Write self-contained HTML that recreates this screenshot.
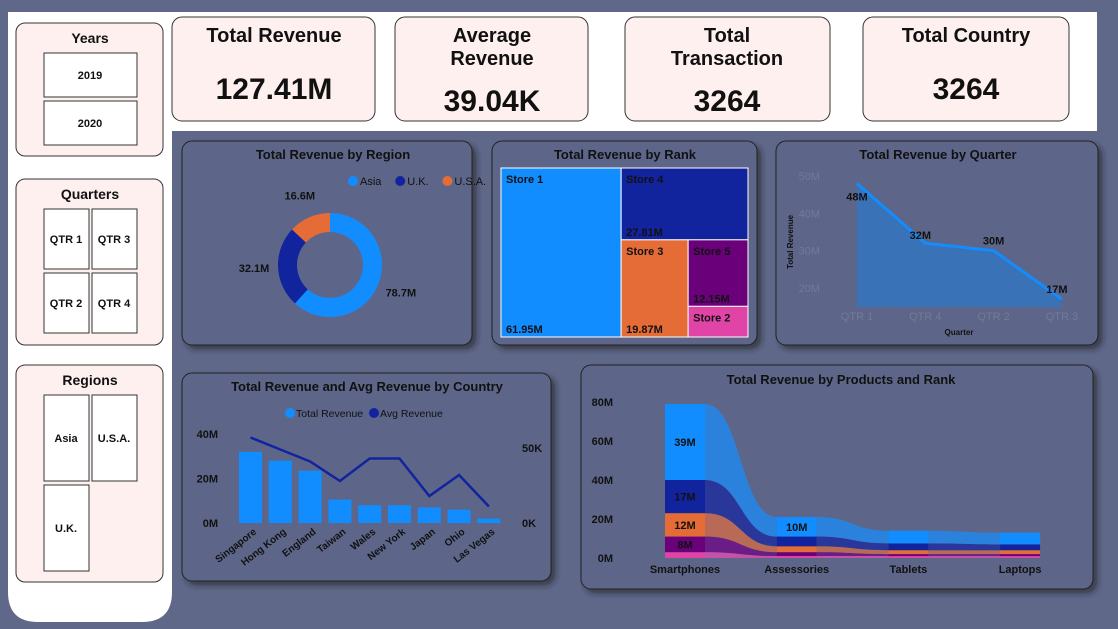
<!DOCTYPE html>
<html><head><meta charset="utf-8">
<style>
html,body{margin:0;padding:0;background:#5f6889;}
svg{display:block;font-family:"Liberation Sans",sans-serif;}
.t{font-weight:bold;fill:#111;}
</style></head>
<body>
<svg id="s" width="1118" height="629" viewBox="0 0 1118 629">
<defs>
<filter id="sh" x="-10%" y="-10%" width="130%" height="130%"><feDropShadow dx="4" dy="4" stdDeviation="3" flood-color="#222" flood-opacity="0.6"/></filter>
</defs>
<rect width="1118" height="629" fill="#5f6889"/>
<path d="M8 12 H172 V592 Q172 622 142 622 H38 Q8 622 8 592 Z" fill="#fff"/>
<rect x="172" y="12" width="925" height="119" fill="#fff"/>

<g>
<rect x="16" y="23" width="147" height="133" rx="9" fill="#fdf0ee" stroke="#333" stroke-width="1"/>
<text x="90" y="43" text-anchor="middle" class="t" font-size="14">Years</text>
<g><rect x="44" y="53" width="93" height="44" fill="#fff" stroke="#333"/><text x="90" y="79" text-anchor="middle" font-size="11" class="t">2019</text></g>
<g><rect x="44" y="101" width="93" height="44" fill="#fff" stroke="#333"/><text x="90" y="127" text-anchor="middle" font-size="11" class="t">2020</text></g>
</g>
<g>
<rect x="16" y="179" width="147" height="166" rx="9" fill="#fdf0ee" stroke="#333"/>
<text x="90" y="199" text-anchor="middle" class="t" font-size="14">Quarters</text>
<g><rect x="44" y="209" width="45" height="60" fill="#fff" stroke="#333"/><text x="66" y="243" text-anchor="middle" font-size="11" class="t">QTR 1</text></g>
<g><rect x="92" y="209" width="45" height="60" fill="#fff" stroke="#333"/><text x="114" y="243" text-anchor="middle" font-size="11" class="t">QTR 3</text></g>
<g><rect x="44" y="273" width="45" height="60" fill="#fff" stroke="#333"/><text x="66" y="307" text-anchor="middle" font-size="11" class="t">QTR 2</text></g>
<g><rect x="92" y="273" width="45" height="60" fill="#fff" stroke="#333"/><text x="114" y="307" text-anchor="middle" font-size="11" class="t">QTR 4</text></g>
</g>
<g>
<rect x="16" y="365" width="147" height="217" rx="9" fill="#fdf0ee" stroke="#333"/>
<text x="90" y="385" text-anchor="middle" class="t" font-size="14">Regions</text>
<g><rect x="44" y="395" width="45" height="86" fill="#fff" stroke="#333"/><text x="66" y="442" text-anchor="middle" font-size="11" class="t">Asia</text></g>
<g><rect x="92" y="395" width="45" height="86" fill="#fff" stroke="#333"/><text x="114" y="442" text-anchor="middle" font-size="11" class="t">U.S.A.</text></g>
<g><rect x="44" y="485" width="45" height="86" fill="#fff" stroke="#333"/><text x="66" y="532" text-anchor="middle" font-size="11" class="t">U.K.</text></g>
</g>

<g>
<rect x="172" y="17" width="203" height="104" rx="10" fill="#fdf0ee" stroke="#333"/>
<text x="274" y="42" text-anchor="middle" class="t" font-size="20" fill="#222">Total Revenue</text>
<text x="274" y="99" text-anchor="middle" class="t" font-size="30" fill="#222">127.41M</text></g>
<g>
<rect x="395" y="17" width="193" height="104" rx="10" fill="#fdf0ee" stroke="#333"/>
<text x="492" y="42" text-anchor="middle" class="t" font-size="20">Average</text>
<text x="492" y="65" text-anchor="middle" class="t" font-size="20">Revenue</text>
<text x="492" y="111" text-anchor="middle" class="t" font-size="30">39.04K</text></g>
<g>
<rect x="625" y="17" width="205" height="104" rx="10" fill="#fdf0ee" stroke="#333"/>
<text x="727" y="42" text-anchor="middle" class="t" font-size="20">Total</text>
<text x="727" y="65" text-anchor="middle" class="t" font-size="20">Transaction</text>
<text x="727" y="111" text-anchor="middle" class="t" font-size="30">3264</text></g>
<g>
<rect x="863" y="17" width="206" height="104" rx="10" fill="#fdf0ee" stroke="#333"/>
<text x="966" y="42" text-anchor="middle" class="t" font-size="20">Total Country</text>
<text x="966" y="99" text-anchor="middle" class="t" font-size="30">3264</text></g>

<g filter="url(#sh)">
<rect x="182" y="141" width="290" height="204" rx="10" fill="#5d6688" stroke="#222"/>
<rect x="492" y="141" width="265" height="204" rx="10" fill="#5d6688" stroke="#222"/>
<rect x="776" y="141" width="322" height="204" rx="10" fill="#5d6688" stroke="#222"/>
<rect x="182" y="373" width="369" height="208" rx="10" fill="#5d6688" stroke="#222"/>
<rect x="581" y="365" width="512" height="224" rx="10" fill="#5d6688" stroke="#222"/>
</g>
<text x="333" y="159" text-anchor="middle" class="t" font-size="13">Total Revenue by Region</text>
<text x="625" y="159" text-anchor="middle" class="t" font-size="13">Total Revenue by Rank</text>
<text x="938" y="159" text-anchor="middle" class="t" font-size="13">Total Revenue by Quarter</text>
<text x="367" y="391" text-anchor="middle" class="t" font-size="13">Total Revenue and Avg Revenue by Country</text>
<text x="841" y="384" text-anchor="middle" class="t" font-size="13">Total Revenue by Products and Rank</text>

<g id="region"></g>
<g id="rank"></g>
<g id="quarter"></g>
<g id="country"></g>
<g id="products"></g>
</svg>
<script>
const regionNames=["Asia","U.K.","U.S.A."];
const regionValues=[78.7,32.1,16.6];
const regionColors=["#118dff","#12239e","#e66c37"];

const rankNames=["Store 1","Store 4","Store 3","Store 5","Store 2"];
const rankValues=[61.95,27.81,19.87,12.15,5.6];
const rankLabels=["61.95M","27.81M","19.87M","12.15M",""];

const quarterNames=["QTR 1","QTR 4","QTR 2","QTR 3"];
const quarterValues=[48,32,30,17];
const quarterTicks=[20,30,40,50];

const countryNames=["Singapore","Hong Kong","England","Taiwan","Wales","New York","Japan","Ohio","Las Vegas"];
const countryTotal=[32,28,23.5,10.5,8,8,7,6,2];
const countryAvg=[57,49,41,28,43,43,18,32,11];
const countryLeftTicks=[0,20,40];
const countryRightTicks=[0,50];

const productNames=["Smartphones","Assessories","Tablets","Laptops"];
const rankPink=[3,1,1,1];
const rankPurple=[8,2,1,1];
const rankOrange=[12,3,2,2];
const rankDark=[17,5,3.5,3];
const rankLight=[39,10,6.5,6];
const productTicks=[0,20,40,60,80];

const NS="http://www.w3.org/2000/svg";
function mk(tag,attrs,parent,text){const e=document.createElementNS(NS,tag);for(const k in attrs)e.setAttribute(k,attrs[k]);if(text!==undefined)e.textContent=text;parent.appendChild(e);return e;}

(function(){
const g=document.getElementById('region');
const cx=330,cy=265,R=52,r=33;const tot=regionValues.reduce((a,b)=>a+b,0);
let a0=0;
regionValues.forEach((v,i)=>{
 const a1=a0+v/tot*2*Math.PI;
 const p=(a,rad)=>[cx+rad*Math.sin(a),cy-rad*Math.cos(a)];
 const [x1,y1]=p(a0,R),[x2,y2]=p(a1,R),[x3,y3]=p(a1,r),[x4,y4]=p(a0,r);
 const lg=(a1-a0)>Math.PI?1:0;
 const s=mk('path',{d:`M${x1} ${y1} A${R} ${R} 0 ${lg} 1 ${x2} ${y2} L${x3} ${y3} A${r} ${r} 0 ${lg} 0 ${x4} ${y4}Z`,fill:regionColors[i]},g);
 
 
 const am=(a0+a1)/2;const [lx,ly]=p(am,R+24);
 const t=mk('text',{x:lx,y:ly+4,'text-anchor':'middle','font-size':11,fill:'#111','font-weight':'bold'},g,v.toFixed(1)+'M');
 
 
 a0=a1;
});
let lx=348;
regionNames.forEach((n,i)=>{
 const c=mk('circle',{cx:lx+5,cy:181,r:5,fill:regionColors[i]},g);
 
 
 const t=mk('text',{x:lx+12,y:185,'font-size':11,fill:'#111'},g,n);
 
 
 lx+=12+n.length*6.8+8;
});
})();

(function(){
const g=document.getElementById('rank');
const X0=501,X1=748,Y0=168,Y1=337;
const cols=["#118dff","#12239e","#e66c37","#6b007b","#e044a7"];
const tot=rankValues.reduce((a,b)=>a+b,0);
const W=X1-X0,H=Y1-Y0;
const rects=[];
const w1=W*rankValues[0]/tot;rects.push([X0,Y0,w1,H]);
const rest=tot-rankValues[0];const xr=X0+w1,wr=X1-xr;
const h4=H*rankValues[1]/rest;rects.push([xr,Y0,wr,h4]);
const rest2=rest-rankValues[1];const yb=Y0+h4,hb=Y1-yb;
const w3=wr*rankValues[2]/rest2;rects.push([xr,yb,w3,hb]);
const rest3=rest2-rankValues[2];const x5=xr+w3,w5=X1-x5;
const h5=hb*rankValues[3]/rest3;rects.push([x5,yb,w5,h5]);
rects.push([x5,yb+h5,w5,Y1-yb-h5]);
rects.forEach((r,i)=>{
 const e=mk('rect',{x:r[0],y:r[1],width:r[2],height:r[3],fill:cols[i],stroke:'#fff','stroke-width':1},g);
 
 
 const t=mk('text',{x:r[0]+5,y:r[1]+15,'font-size':11,fill:'#111','font-weight':'bold'},g,rankNames[i]);
 
 
 if(rankLabels[i]){const v=mk('text',{x:r[0]+5,y:r[1]+r[3]-4,'font-size':11,fill:'#111','font-weight':'bold'},g,rankLabels[i]);
 
 }
});
})();

(function(){
const g=document.getElementById('quarter');
const y=v=>176+(50-v)*3.733;const x=i=>857+i*68.3;
quarterTicks.forEach(t=>{const e=mk('text',{x:820,y:y(t)+4,'text-anchor':'end','font-size':11,fill:'#727a9a'},g,t+'M');
 
 });
quarterNames.forEach((n,i)=>{const e=mk('text',{x:x(i),y:320,'text-anchor':'middle','font-size':11,fill:'#727a9a'},g,n);
 
 });
let pts=quarterValues.map((v,i)=>x(i)+','+y(v)).join(' ');
const a=mk('polygon',{points:`${x(0)},307 ${pts} ${x(3)},307`,fill:'#3a72b8'},g);


const l=mk('polyline',{points:pts,fill:'none',stroke:'#118dff','stroke-width':3},g);


const off=[[0,13],[-5,-8],[0,-10],[-5,-10]];
quarterValues.forEach((v,i)=>{const e=mk('text',{x:x(i)+off[i][0],y:y(v)+off[i][1]+4,'text-anchor':'middle','font-size':11,fill:'#111','font-weight':'bold'},g,v+'M');
 
 });
const yt=mk('text',{transform:'translate(793,242) rotate(-90)','text-anchor':'middle','font-size':8,'font-weight':'bold',fill:'#111'},g,'Total Revenue');


const xt=mk('text',{x:959,y:335,'text-anchor':'middle','font-size':8,'font-weight':'bold',fill:'#111'},g,'Quarter');


})();

(function(){
const g=document.getElementById('country');
const yL=v=>523-v*2.225,yR=v=>523-v*1.5,x=i=>239+i*29.8;
countryLeftTicks.forEach(t=>{const e=mk('text',{x:218,y:yL(t)+4,'text-anchor':'end','font-size':11,fill:'#111','font-weight':'bold'},g,t+'M');
 
 });
countryRightTicks.forEach(t=>{const e=mk('text',{x:522,y:yR(t)+4,'font-size':11,fill:'#111','font-weight':'bold'},g,t+'K');
 
 });
countryTotal.forEach((v,i)=>{const e=mk('rect',{x:x(i),y:yL(v),width:23,height:v*2.225,fill:'#118dff'},g);
 
 
 const t=mk('text',{transform:`translate(${x(i)+18},${533}) rotate(-38)`,'text-anchor':'end','font-size':10,'font-weight':'bold',fill:'#111'},g,countryNames[i]);
 
 });
const l=mk('polyline',{points:countryAvg.map((v,i)=>(x(i)+11.5)+','+yR(v)).join(' '),fill:'none',stroke:'#12239e','stroke-width':2.5},g);


[['Total Revenue','#118dff',290],['Avg Revenue','#12239e',374]].forEach(d=>{
 const c=mk('circle',{cx:d[2],cy:413,r:5,fill:d[1]},g);
 
 
 const t=mk('text',{x:d[2]+6,y:417,'font-size':10.5,fill:'#111'},g,d[0]);
 
 });
})();

(function(){
const g=document.getElementById('products');
const y=v=>558-v*1.95;const xs=i=>665+i*111.7,bw=40;
productTicks.forEach(t=>{const e=mk('text',{x:613,y:y(t)+4,'text-anchor':'end','font-size':11,'font-weight':'bold',fill:'#111'},g,t+'M');
 
 });
const series=[rankPink,rankPurple,rankOrange,rankDark,rankLight];
const sNames=["store-2","store-5","store-3","store-4","store-1"];
const cols=["#e044a7","#6b007b","#e66c37","#12239e","#118dff"];
const rib=["#c552a8","#6a1d86","#b86a56","#2a379a","#2b82dc"];
const base=productNames.map(()=>0);
series.forEach((s,k)=>{
 const lo=base.slice(),hi=base.map((b,i)=>b+s[i]);
 for(let i=0;i<productNames.length-1;i++){
  const xa=xs(i)+bw,xb=xs(i+1),m=(xa+xb)/2;
  const d=`M${xa} ${y(hi[i])} C${m} ${y(hi[i])} ${m} ${y(hi[i+1])} ${xb} ${y(hi[i+1])} L${xb} ${y(lo[i+1])} C${m} ${y(lo[i+1])} ${m} ${y(lo[i])} ${xa} ${y(lo[i])}Z`;
  const p=mk('path',{d:d,fill:rib[k]},g);
  
  
 }
 productNames.forEach((n,i)=>{
  const r=mk('rect',{x:xs(i),y:y(hi[i]),width:bw,height:s[i]*1.95,fill:cols[k]},g);
  
  
  if(s[i]>=8&&!(i>0&&k<4)){const t=mk('text',{x:xs(i)+bw/2,y:y((lo[i]+hi[i])/2)+4,'text-anchor':'middle','font-size':11,'font-weight':'bold',fill:'#111'},g,s[i]+'M');
   
   }
 });
 for(let i=0;i<base.length;i++)base[i]=hi[i];
});
productNames.forEach((n,i)=>{const t=mk('text',{x:xs(i)+bw/2,y:573,'text-anchor':'middle','font-size':11,'font-weight':'bold',fill:'#111'},g,n);
 
 });
})();
</script>
</body></html>
